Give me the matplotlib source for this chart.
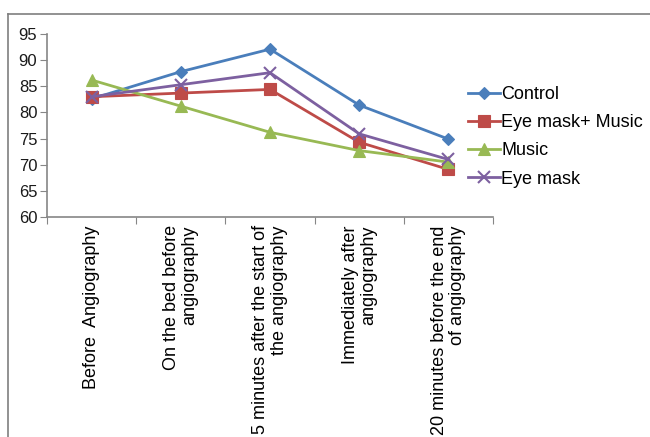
import matplotlib
matplotlib.use("Agg")
import matplotlib.pyplot as plt
from matplotlib.lines import Line2D

plt.rcParams['font.family'] = ['Liberation Sans', 'DejaVu Sans']

categories = [
    "Before  Angiography",
    "On the bed before\nangiography",
    "5 minutes after the start of\nthe angiography",
    "Immediately after\nangiography",
    "20 minutes before the end\nof angiography",
]
control = [82.6, 87.8, 92.1, 81.4, 74.9]
eye_mask_music = [83.0, 83.7, 84.4, 74.3, 69.1]
music = [86.2, 81.2, 76.2, 72.7, 70.5]
eye_mask = [83.0, 85.3, 87.6, 75.9, 71.0]

series = [
    ("Control", control, "#4A7EBB", "D", 6.5),
    ("Eye mask+ Music", eye_mask_music, "#BE4B48", "s", 8),
    ("Music", music, "#98B954", "^", 8.5),
    ("Eye mask", eye_mask, "#7D60A0", "x", 8),
]

fig = plt.figure(figsize=(6.5, 4.37), dpi=100)
ax = fig.add_axes([47/650, 1-217/437, (493-47)/650, (217-34)/437])

x = list(range(len(categories)))
handles = []
for name, vals, col, mk, ms in series:
    h, = ax.plot(x, vals, color=col, lw=2, marker=mk, markersize=ms,
                 markerfacecolor=col, markeredgecolor=col,
                 markeredgewidth=1.5 if mk == "x" else 0.8, label=name)
    handles.append(h)

ax.set_xlim(-0.5, len(categories) - 0.5)
ax.set_ylim(60, 95)
ax.set_yticks(range(60, 96, 5))
ax.set_xticks([i - 0.5 for i in range(len(categories) + 1)])
ax.set_xticklabels([])
ax.set_xticks(x, minor=True)
ax.set_xticklabels(categories, minor=True, rotation=90, ha='center', va='top',
                   multialignment='right', fontsize=13, color='black',
                   linespacing=1.1)
ax.tick_params(axis='x', which='minor', length=0, pad=6)
ax.tick_params(axis='x', which='major', length=5, color='#868686', direction='out')
ax.tick_params(axis='y', length=5, color='#868686', labelsize=12, pad=2, labelcolor='#1a1a1a')

for s in ['top', 'right']:
    ax.spines[s].set_visible(False)
for s in ['left', 'bottom']:
    ax.spines[s].set_color('#868686')
    ax.spines[s].set_linewidth(1.2)

fig.legend(handles=handles, loc='upper left', bbox_to_anchor=(468/650, 1-86/437),
           frameon=False, fontsize=13, handlelength=1.75, handletextpad=0.1,
           labelspacing=0.62, borderaxespad=0, borderpad=0)

# outer frame lines
fig.add_artist(Line2D([8/650, 8/650], [0, 1-14/437], transform=fig.transFigure,
                      color='#7f7f7f', lw=1.2))
fig.add_artist(Line2D([8/650, 1], [1-14/437, 1-14/437], transform=fig.transFigure,
                      color='#7f7f7f', lw=1.2))

fig.savefig("out.png", dpi=100)
